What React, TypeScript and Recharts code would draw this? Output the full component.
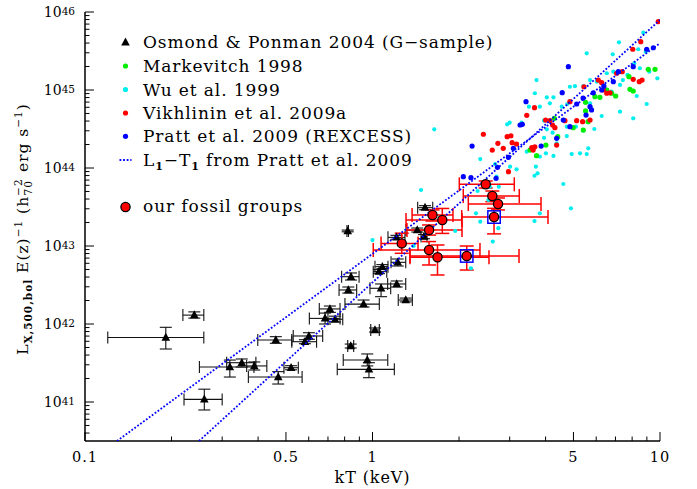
import React from 'react';
import { ScatterChart, Scatter, XAxis, YAxis, ErrorBar } from 'recharts';

const W = 697;
const H = 489;
const SERIF = "'DejaVu Serif', serif";

// Osmond & Ponman 2004: [T, Tlo, Thi, L, Llo, Lhi]
const osmondGroups: number[][] = [
  [0.240, 0.219, 0.259, 1.30e42, 1.19e42, 1.43e42],
  [0.191, 0.120, 0.259, 6.71e41, 4.78e41, 9.07e41],
  [0.260, 0.221, 0.300, 1.08e41, 7.9e40, 1.46e41],
  [0.319, 0.250, 0.387, 2.81e41, 2.09e41, 3.45e41],
  [0.351, 0.311, 0.393, 3.19e41, 2.81e41, 3.56e41],
  [0.388, 0.365, 0.429, 2.90e41, 2.57e41, 3.26e41],
  [0.461, 0.399, 0.524, 6.23e41, 5.66e41, 6.88e41],
  [0.521, 0.492, 0.552, 2.75e41, 2.59e41, 2.92e41],
  [0.470, 0.370, 0.569, 2.09e41, 1.70e41, 2.45e41],
  [0.601, 0.530, 0.671, 7.02e41, 6.37e41, 7.73e41],
  [0.582, 0.524, 0.639, 5.93e41, 5.59e41, 6.29e41],
  [0.684, 0.603, 0.771, 1.18e42, 1.00e42, 1.38e42],
  [0.711, 0.653, 0.771, 1.56e42, 1.41e42, 1.70e42],
  [0.741, 0.700, 0.788, 1.15e42, 1.06e42, 1.26e42],
  [0.824, 0.765, 0.881, 2.73e42, 2.49e42, 2.98e42],
  [0.931, 0.802, 1.056, 1.80e42, 1.65e42, 2.03e42],
  [1.020, 0.986, 1.056, 8.38e41, 7.89e41, 8.89e41],
  [0.840, 0.820, 0.860, 5.22e41, 4.93e41, 5.53e41],
  [0.959, 0.791, 1.130, 3.45e41, 2.90e41, 4.13e41],
  [0.972, 0.754, 1.191, 2.62e41, 2.05e41, 3.19e41],
  [1.071, 0.980, 1.157, 2.87e42, 2.24e42, 3.26e42],
  [1.214, 1.129, 1.305, 3.26e42, 2.98e42, 3.56e42],
  [1.305, 1.229, 1.376, 2.03e42, 1.92e42, 2.15e42],
  [0.842, 0.781, 0.898, 4.04e42, 3.66e42, 4.51e42],
  [1.082, 1.020, 1.132, 5.43e42, 5.12e42, 5.77e42],
  [1.053, 1.006, 1.121, 4.69e42, 4.42e42, 4.98e42],
  [1.224, 1.160, 1.305, 6.18e42, 5.54e42, 6.81e42],
  [0.820, 0.815, 0.825, 1.56e43, 1.52e43, 1.60e43],
  [1.523, 1.436, 1.620, 3.10e43, 2.92e43, 3.29e43],
  [1.431, 1.308, 1.573, 1.60e43, 1.51e43, 1.70e43],
  [1.510, 1.475, 1.547, 1.32e43, 1.24e43, 1.40e43],
  [1.212, 1.132, 1.297, 1.29e43, 1.22e43, 1.37e43],
];

// Markevitch 1998: [T, L]
const markevitch: number[][] = [
  [3.53, 1.70e44], [3.72, 1.44e44], [4.01, 1.97e44], [4.29, 4.34e44], [4.99, 3.29e44],
  [5.41, 3.07e44], [5.51, 5.39e44], [5.62, 3.93e44], [5.51, 6.95e44], [5.94, 8.20e44],
  [6.18, 8.05e44], [6.53, 1.00e45], [6.79, 9.08e44], [7.01, 8.38e44], [7.86, 1.02e45],
  [8.07, 9.71e44], [7.80, 1.48e45], [9.10, 1.84e45], [9.61, 1.84e45], [4.41, 2.52e44],
];

// Wu et al. 1999: [T, L]
const wu: number[][] = [
  [1.64, 3.13e44], [7.20, 4.09e45], [8.75, 5.43e45], [5.56, 2.95e45], [6.85, 2.87e45],
  [8.40, 3.33e45], [8.92, 3.10e45], [8.14, 2.20e45], [8.51, 1.90e45], [9.18, 1.72e45],
  [9.79, 1.41e45], [7.70, 1.56e45], [6.88, 1.72e45], [6.53, 1.64e45], [3.72, 1.34e45],
  [4.86, 1.10e45], [5.06, 1.12e45], [5.41, 1.12e45], [5.71, 1.34e45], [6.03, 1.28e45],
  [6.79, 9.51e44], [7.26, 1.16e45], [7.43, 1.34e45], [8.30, 8.38e44], [8.99, 6.61e44],
  [3.67, 9.08e44], [4.04, 8.05e44], [4.26, 8.05e44], [3.50, 6.11e44], [3.82, 6.11e44],
  [4.14, 6.75e44], [4.55, 6.11e44], [4.76, 6.61e44], [5.71, 6.75e44], [6.27, 4.64e44],
  [7.26, 5.27e44], [8.07, 4.34e44], [2.94, 3.63e44], [3.00, 3.81e44], [3.30, 3.81e44],
  [3.95, 4.04e44], [4.74, 3.39e44], [5.10, 3.39e44], [5.41, 3.01e44], [5.91, 3.16e44],
  [4.04, 3.13e44], [4.23, 2.84e44], [3.95, 2.44e44], [4.74, 2.57e44], [4.37, 2.07e44],
  [4.93, 1.51e44], [5.27, 1.54e44], [5.56, 1.51e44], [5.63, 1.79e44], [4.26, 1.43e44],
  [4.01, 1.54e44], [3.82, 1.40e44], [3.70, 1.04e44], [3.66, 7.96e43], [3.75, 8.55e43],
  [3.17, 9.62e43], [3.44, 1.62e44], [3.01, 1.04e44], [2.37, 1.30e44], [2.67, 1.12e44],
  [2.70, 7.73e43], [2.56, 5.75e43], [2.75, 5.75e43], [4.61, 6.24e43], [4.90, 3.04e43],
  [1.475, 5.22e43], [2.53, 3.89e43], [1.00, 1.19e43], [2.62, 1.14e43], [2.74, 1.69e43],
  [3.82, 2.62e43], [1.39, 1.00e43], [1.94, 1.56e43], [2.20, 5.18e42], [2.32, 5.07e43],
  [2.29, 2.62e43], [2.37, 2.05e43], [3.66, 2.09e43],
];

// Vikhlinin et al. 2009a: [T, L]
const vikhlinin: number[][] = [
  [2.43, 2.71e44], [2.61, 1.70e44], [2.94, 2.52e44], [3.03, 2.59e44], [3.06, 2.11e44],
  [3.17, 2.03e44], [3.44, 4.74e44], [3.66, 5.93e44], [2.85, 1.79e44], [2.97, 8.97e43],
  [3.58, 1.82e44], [3.67, 1.87e44], [3.62, 1.70e44], [4.00, 4.12e44], [4.14, 4.04e44],
  [4.23, 3.56e44], [4.31, 3.29e44], [4.37, 1.97e44], [4.67, 4.04e44], [4.86, 7.08e44],
  [5.13, 4.04e44], [5.38, 3.93e44], [5.71, 4.12e44], [5.44, 1.10e45], [6.10, 1.34e45],
  [6.27, 1.24e45], [6.35, 1.00e45], [6.53, 9.08e44], [6.70, 9.20e44], [7.07, 1.64e45],
  [7.39, 1.72e45], [8.07, 1.37e45], [8.47, 1.28e45], [8.66, 1.34e45], [8.04, 3.33e45],
  [8.57, 4.16e45], [9.86, 7.52e45], [2.73, 2.07e44],
];

// Pratt et al. 2009 (REXCESS): [T, L]
const pratt: number[][] = [
  [2.22, 1.91e44], [2.07, 7.73e43], [2.20, 7.51e43], [2.69, 7.38e43], [2.72, 1.02e44],
  [2.97, 1.37e44], [3.09, 1.79e44], [3.26, 3.56e44], [3.32, 3.63e44], [3.42, 7.08e44],
  [4.57, 9.23e44], [4.80, 1.99e45], [5.13, 6.61e44], [5.40, 7.89e44], [5.71, 6.11e44],
  [5.78, 5.55e44], [5.86, 9.20e44], [6.27, 1.00e45], [6.38, 1.12e45], [6.88, 1.28e45],
  [8.07, 1.99e45], [8.99, 3.33e45], [9.48, 3.48e45], [4.86, 3.39e44], [4.37, 2.40e44],
  [4.61, 4.12e44], [7.16, 1.72e45], [3.86, 1.91e44], [5.53, 4.77e44],
];

// L-T relations from Pratt et al. 2009 (end points): [T, L]
const prattRelationA: number[][] = [[0.1292, 3.162e40], [10, 3.98e45]];
const prattRelationB: number[][] = [[0.2492, 3.162e40], [10, 7.94e45]];

// our fossil groups: [T, Tlo, Thi, L, Llo, Lhi]
const fossilGroups: number[][] = [
  [2.476, 2.004, 3.113, 6.18e43, 5.54e43, 6.81e43],
  [2.611, 2.069, 3.240, 4.38e43, 3.70e43, 5.07e43],
  [2.733, 2.154, 3.856, 3.45e43, 2.90e43, 4.13e43],
  [2.647, 2.043, 4.078, 2.35e43, 1.43e43, 3.04e43],
  [1.617, 1.373, 1.905, 2.50e43, 2.09e43, 2.90e43],
  [1.749, 1.308, 2.048, 2.15e43, 1.45e43, 3.03e43],
  [1.573, 1.318, 2.048, 1.60e43, 1.38e43, 1.86e43],
  [1.264, 1.071, 1.440, 1.08e43, 8.06e42, 1.46e43],
  [1.573, 1.006, 2.365, 8.89e42, 5.71e42, 1.14e43],
  [1.683, 1.350, 2.542, 7.16e42, 4.25e42, 1.03e43],
  [2.127, 1.350, 3.233, 7.45e42, 4.92e42, 1.00e43],
];
// fossil groups marked with a blue box: [T, L]
const fossilBoxed: number[][] = [[2.647, 2.35e43], [2.127, 7.45e42]];

// axes
const xDomain = [0.1, 10];
const yDomain = [3.1623e40, 1e46];
const xMajorTicks = [0.1, 0.5, 1, 5, 10];
const xTickLabels = ['0.1', '0.5', '1', '5', '10'];
const xMinorTicks = [0.2, 0.3, 0.4, 0.6, 0.7, 0.8, 0.9, 2, 3, 4, 6, 7, 8, 9];
const yMajorTicks = [1e41, 1e42, 1e43, 1e44, 1e45, 1e46];
const yTickExponents = ['41', '42', '43', '44', '45', '46'];
const yMinorMantissas = [2, 3, 4, 5, 6, 7, 8, 9];
const yMinorDecades = [1e40, 1e41, 1e42, 1e43, 1e44, 1e45];

const legendLabels = [
  'Osmond & Ponman 2004 (G\u2212sample)',
  'Markevitch 1998',
  'Wu et al. 1999',
  'Vikhlinin et al. 2009a',
  'Pratt et al. 2009 (REXCESS)',
  'from Pratt et al. 2009',
  'our fossil groups',
];

const xTicks = [...xMajorTicks, ...xMinorTicks].sort((a, b) => a - b);
const yMinorTicks: number[] = [];
yMinorDecades.forEach((d) => yMinorMantissas.forEach((m) => {
  const v = d * m;
  if (v > yDomain[0] && v < yDomain[1]) yMinorTicks.push(v);
}));
const yTicks = [...yMajorTicks, ...yMinorTicks].sort((a, b) => a - b);

const withErr = (rows: number[][]) =>
  rows.map(([T, Tlo, Thi, L, Llo, Lhi]) => ({ T, L, ex: [T - Tlo, Thi - T], ey: [L - Llo, Lhi - L] }));
const pts = (rows: number[][]) => rows.map(([T, L]) => ({ T, L }));

const osmondData = withErr(osmondGroups);
const fossilData = withErr(fossilGroups);

const majorIndex = (v: number, majors: number[]) => majors.findIndex((m) => Math.abs(v / m - 1) < 1e-6);

const MAJ = 9;
const MIN = 4.5;

const BottomTick = (p: any) => {
  const i = majorIndex(p.payload.value, xMajorTicks);
  return (
    <g>
      <line x1={p.x} x2={p.x} y1={p.y} y2={p.y - (i >= 0 ? MAJ : MIN)} stroke="#000" strokeWidth={1} />
      {i >= 0 && (
        <text x={p.x} y={p.y + 21} textAnchor="middle" fontFamily={SERIF} fontSize={14.5} letterSpacing={1} fill="#000">
          {xTickLabels[i]}
        </text>
      )}
    </g>
  );
};
const TopTick = (p: any) => {
  const i = majorIndex(p.payload.value, xMajorTicks);
  return <line x1={p.x} x2={p.x} y1={p.y} y2={p.y + (i >= 0 ? MAJ : MIN)} stroke="#000" strokeWidth={1} />;
};
const LeftTick = (p: any) => {
  const i = majorIndex(p.payload.value, yMajorTicks);
  return (
    <g>
      <line x1={p.x} x2={p.x + (i >= 0 ? MAJ : MIN)} y1={p.y} y2={p.y} stroke="#000" strokeWidth={1} />
      {i >= 0 && (
        <text x={p.x - 10} y={p.y + 5} textAnchor="end" fontFamily={SERIF} fontSize={14} fill="#000">
          10<tspan dy={-2.5} fontSize={10.5}>{yTickExponents[i]}</tspan>
        </text>
      )}
    </g>
  );
};
const RightTick = (p: any) => {
  const i = majorIndex(p.payload.value, yMajorTicks);
  return <line x1={p.x} x2={p.x - (i >= 0 ? MAJ : MIN)} y1={p.y} y2={p.y} stroke="#000" strokeWidth={1} />;
};

const dot = (r: number, fill: string) => (p: any) => <circle cx={p.cx} cy={p.cy} r={r} fill={fill} />;
const triangle = (p: any) => (
  <polygon points={`${p.cx},${p.cy - 4.8} ${p.cx - 4.3},${p.cy + 3.2} ${p.cx + 4.3},${p.cy + 3.2}`} fill="#000" />
);
const fossilShape = (p: any) => <circle cx={p.cx} cy={p.cy} r={4.6} fill="#ff0000" stroke="#000" strokeWidth={1.3} />;
const boxShape = (p: any) => (
  <rect x={p.cx - 6.2} y={p.cy - 6.2} width={12.4} height={12.4} fill="none" stroke="#0000ff" strokeWidth={1.5} />
);
const noShape = () => <g />;

const CYAN = '#00eeee';
const GREEN = '#00ee00';
const RED = '#ff0000';
const BLUE = '#0000ff';
const dotted = { stroke: BLUE, strokeWidth: 1.8, strokeDasharray: '1.8 1.8', fill: 'none' };

const axisLine = { stroke: '#000', strokeWidth: 1.5 };

const legendX = 143;
const legendMarkX = 125.5;
const legendBase = [48, 72, 95.5, 119, 142.3, 165.5, 212];

export default function App() {
  return (
    <div style={{ position: 'absolute', left: 0, top: 0, width: W, height: H, background: '#fff' }}>
      <ScatterChart width={W} height={H} margin={{ top: 12, right: 37, bottom: 0, left: 0 }}>
        <XAxis xAxisId="b" type="number" dataKey="T" scale="log" domain={xDomain} allowDataOverflow
          ticks={xTicks} interval={0} tickSize={0} tickMargin={0} tick={BottomTick} tickLine={false}
          axisLine={axisLine} height={48} orientation="bottom" />
        <XAxis xAxisId="t" type="number" dataKey="T" scale="log" domain={xDomain} allowDataOverflow
          ticks={xTicks} interval={0} tickSize={0} tickMargin={0} tick={TopTick} tickLine={false}
          axisLine={axisLine} height={0} orientation="top" />
        <YAxis yAxisId="l" type="number" dataKey="L" scale="log" domain={yDomain} allowDataOverflow
          ticks={yTicks} interval={0} tickSize={0} tickMargin={0} tick={LeftTick} tickLine={false}
          axisLine={axisLine} width={85} orientation="left" />
        <YAxis yAxisId="r" type="number" dataKey="L" scale="log" domain={yDomain} allowDataOverflow
          ticks={yTicks} interval={0} tickSize={0} tickMargin={0} tick={RightTick} tickLine={false}
          axisLine={axisLine} width={0} orientation="right" />

        <Scatter name="Osmond & Ponman 2004" xAxisId="b" yAxisId="l" data={osmondData} shape={triangle} isAnimationActive={false}>
          <ErrorBar dataKey="ex" direction="x" width={6} stroke="#111" strokeWidth={1.1} />
          <ErrorBar dataKey="ey" direction="y" width={6} stroke="#111" strokeWidth={1.1} />
        </Scatter>
        <Scatter name="Wu et al. 1999" xAxisId="b" yAxisId="l" data={pts(wu)} shape={dot(2.1, CYAN)} isAnimationActive={false} />
        <Scatter name="Markevitch 1998" xAxisId="b" yAxisId="l" data={pts(markevitch)} shape={dot(2.6, GREEN)} isAnimationActive={false} />
        <Scatter name="Vikhlinin et al. 2009a" xAxisId="b" yAxisId="l" data={pts(vikhlinin)} shape={dot(2.6, RED)} isAnimationActive={false} />
        <Scatter name="Pratt et al. 2009" xAxisId="b" yAxisId="l" data={pts(pratt)} shape={dot(2.6, BLUE)} isAnimationActive={false} />
        <Scatter name="L-T A" xAxisId="b" yAxisId="l" data={pts(prattRelationA)} line={dotted} lineType="joint" shape={noShape} isAnimationActive={false} />
        <Scatter name="L-T B" xAxisId="b" yAxisId="l" data={pts(prattRelationB)} line={dotted} lineType="joint" shape={noShape} isAnimationActive={false} />
        <Scatter name="our fossil groups" xAxisId="b" yAxisId="l" data={fossilData} shape={fossilShape} isAnimationActive={false}>
          <ErrorBar dataKey="ex" direction="x" width={7} stroke={RED} strokeWidth={1.5} />
          <ErrorBar dataKey="ey" direction="y" width={7} stroke={RED} strokeWidth={1.5} />
        </Scatter>
        <Scatter name="boxed" xAxisId="b" yAxisId="l" data={pts(fossilBoxed)} shape={boxShape} isAnimationActive={false} />
      </ScatterChart>

      <svg width={W} height={H} style={{ position: 'absolute', left: 0, top: 0, pointerEvents: 'none' }}>
        <g fontFamily={SERIF} fontSize={17} letterSpacing={0.9} fill="#000">
          <polygon points={`${legendMarkX},${legendBase[0] - 10.5} ${legendMarkX - 4.3},${legendBase[0] - 2.5} ${legendMarkX + 4.3},${legendBase[0] - 2.5}`} fill="#000" />
          <circle cx={legendMarkX} cy={legendBase[1] - 6} r={2.6} fill={GREEN} />
          <circle cx={legendMarkX} cy={legendBase[2] - 6} r={2.6} fill={CYAN} />
          <circle cx={legendMarkX} cy={legendBase[3] - 6} r={2.6} fill={RED} />
          <circle cx={legendMarkX} cy={legendBase[4] - 6} r={2.6} fill={BLUE} />
          <line x1={legendMarkX - 6} x2={legendMarkX + 6} y1={legendBase[5] - 5.5} y2={legendBase[5] - 5.5} {...dotted} />
          <circle cx={legendMarkX} cy={legendBase[6] - 5} r={4.6} fill={RED} stroke="#000" strokeWidth={1.3} />
          {[0, 1, 2, 3, 4].map((i) => (
            <text key={i} x={legendX} y={legendBase[i]}>{legendLabels[i]}</text>
          ))}
          <text x={legendX} y={legendBase[5]}>
            L<tspan dy={4} fontSize={11} fontWeight="bold">1</tspan>
            <tspan dy={-4}>{'\u2212T'}</tspan>
            <tspan dy={4} fontSize={11} fontWeight="bold">1</tspan>
            <tspan dy={-4}>{' ' + legendLabels[5]}</tspan>
          </text>
          <text x={legendX} y={legendBase[6]}>{legendLabels[6]}</text>
        </g>
        <text x={372.5} y={483} textAnchor="middle" fontFamily={SERIF} fontSize={16} letterSpacing={0.9} fill="#000">kT (keV)</text>
        <text transform="rotate(-90)" x={-229} y={27.5} textAnchor="middle" fontFamily={SERIF} fontSize={15.5} letterSpacing={1} fill="#000">
          L<tspan dy={4} fontSize={10.5} fontWeight="bold">X,500,bol</tspan>
          <tspan dy={-4}> E(z)</tspan>
          <tspan dy={-6} fontSize={10.5}>{'\u22121'}</tspan>
          <tspan dy={6}> (h</tspan>
          <tspan dy={-6} fontSize={10.5}>{'\u22122'}</tspan>
          <tspan dx={-17} dy={10} fontSize={10.5}>70</tspan>
          <tspan dx={2} dy={-4}> erg s</tspan>
          <tspan dy={-6} fontSize={10.5}>{'\u22121'}</tspan>
          <tspan dy={6}>)</tspan>
        </text>
      </svg>
    </div>
  );
}
